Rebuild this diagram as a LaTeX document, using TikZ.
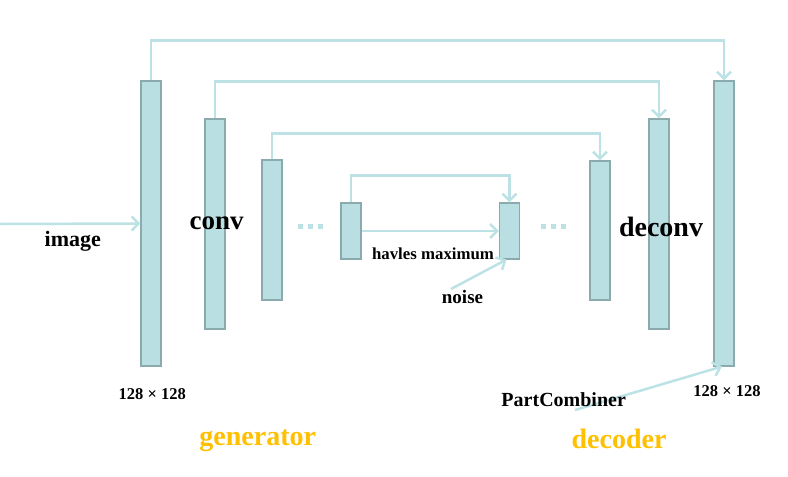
\documentclass[tikz,border=0pt]{standalone}
\usepackage{fontspec}
\setmainfont{Liberation Serif}
\usetikzlibrary{arrows.meta}
\definecolor{barfill}{HTML}{B9DFE3}
\definecolor{barline}{HTML}{8AAAAD}
\definecolor{linkc}{HTML}{BCE2E6}
\definecolor{orangec}{HTML}{FFC000}
\tikzset{
  bar/.style={draw=barline, fill=barfill, line width=1.1pt, minimum width=20pt, inner sep=0pt},
  link/.style={draw=linkc, line width=2.5pt, -{Straight Barb[length=7pt,width=14pt]}},
  lbl/.style={anchor=base, inner sep=0pt, font=\bfseries},
  dots/.style={fill=linkc, minimum size=5pt, inner sep=0pt}
}

\begin{document}
\begin{tikzpicture}[x=1pt, y=-1pt]
\useasboundingbox (0,0) rectangle (788,477);

\node[bar, minimum height=285] (b1) at (151,223.5) {};
\node[bar, minimum height=210] (b2) at (215,224) {};
\node[bar, minimum height=140] (b3) at (272,230) {};
\node[bar, minimum height=56]  (b4) at (351,231) {};
\node[bar, minimum height=56]  (b5) at (509.5,231) {};
\node[bar, minimum height=139] (b6) at (600,230.5) {};
\node[bar, minimum height=210] (b7) at (659,224) {};
\node[bar, minimum height=285] (b8) at (724,223.5) {};

\draw[link] (b1.north) -- ++(0,-40) -| (b8.north);
\draw[link] (b2.north) -- ++(0,-37) -| (b7.north);
\draw[link] (b3.north) -- ++(0,-26) -| (b6.north);
\draw[link] (b4.north) -- ++(0,-27) -| (b5.north);
\draw[link] (b4.east) -- (b5.west);

\foreach \x in {300.5, 310.5, 320.5, 543, 553, 563} \node[dots] at (\x,226.5) {};

\coordinate (imgsrc) at (0,224);
\draw[link] (imgsrc) -- (b1.west);
\node[lbl, font=\bfseries\fontsize{22}{24}\selectfont] (image) at (72.8,246.7) {image};

\node[lbl, font=\bfseries\fontsize{27}{30}\selectfont] (conv) at (216.7,229.3) {conv};
\node[lbl, font=\bfseries\fontsize{28}{30}\selectfont] (deconv) at (661,236.7) {deconv};

\coordinate (noisesrc) at (451,289);
\draw[link] (noisesrc) -- ([xshift=-3pt]b5.south);
\node[lbl, font=\bfseries\fontsize{16.8}{18}\selectfont] (halves) at (433,259.3) {havles maximum};
\node[lbl, font=\bfseries\fontsize{19}{21}\selectfont] (noise) at (462.5,303.3) {noise};

\node[lbl, font=\bfseries\fontsize{16.5}{18}\selectfont] (size1) at (152.3,399) {128 × 128};
\node[lbl, font=\bfseries\fontsize{16.5}{18}\selectfont] (size2) at (727,396.7) {128 × 128};

\coordinate (combsrc) at (575,410);
\draw[link] (combsrc) -- ([xshift=-2pt]b8.south);
\node[lbl, font=\bfseries\fontsize{20}{22}\selectfont] (combiner) at (563.7,406) {PartCombiner};

\node[lbl, text=orangec, font=\bfseries\fontsize{28}{30}\selectfont] (gen) at (257.8,445) {generator};
\node[lbl, text=orangec, font=\bfseries\fontsize{28}{30}\selectfont] (dec) at (619,448) {decoder};

\end{tikzpicture}
\end{document}
